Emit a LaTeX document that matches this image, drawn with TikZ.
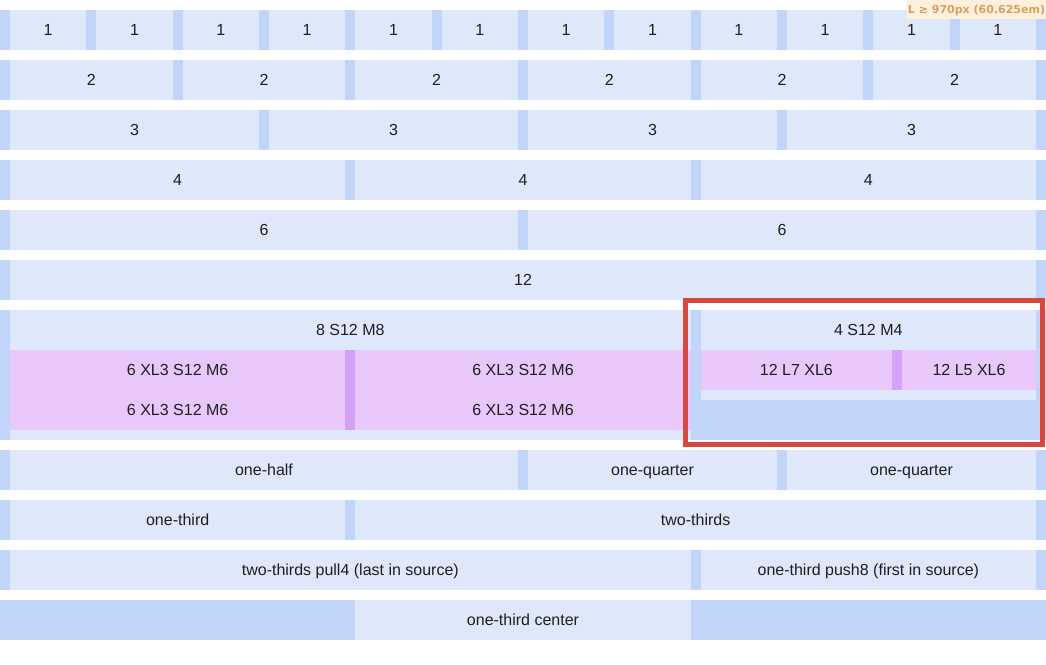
\documentclass[tikz,border=0pt]{standalone}
\usepackage{fontspec}
\setmainfont{Liberation Sans}
\newfontfamily\labelfont{DejaVu Sans}
\definecolor{cellc}{HTML}{DFE8FB}
\definecolor{gutc}{HTML}{C1D4FA}
\definecolor{pinkc}{HTML}{E8C8FA}
\definecolor{purpc}{HTML}{D4A2F6}
\definecolor{redc}{HTML}{D9483C}
\definecolor{txtc}{HTML}{1E1E1E}
\definecolor{creamc}{HTML}{FDF1DE}
\definecolor{tanc}{HTML}{D6A160}
\tikzset{
  celltext/.style={inner sep=0pt, anchor=base, text=txtc, font=\fontsize{16}{19}\selectfont},
  lightfill/.style={fill=cellc},
  gutfill/.style={fill=gutc},
  pinkfill/.style={fill=pinkc},
  purpfill/.style={fill=purpc},
}
% name, x1, x2, y1, y2, text
\newcommand\gcell[6]{%
  \fill[lightfill] (#2,#4) rectangle (#3,#5);
  \node[celltext] (#1) at ({(#2+#3)/2},{#4+25.7}) {#6};}
\newcommand\pcell[6]{%
  \fill[pinkfill] (#2,#4) rectangle (#3,#5);
  \node[celltext] (#1) at ({(#2+#3)/2},{#4+25.7}) {#6};}
\newcommand\rowbg[2]{\fill[gutfill] (0,#1) rectangle (1046,#2);}
\begin{document}
\begin{tikzpicture}[x=1pt,y=-1pt]
\useasboundingbox (0,0) rectangle (1046,664);
\fill[white] (0,0) rectangle (1046,664);
% row 1
\rowbg{10}{50}
\foreach \k in {0,...,11}{
  \pgfmathsetmacro\xa{86.3333*\k+10}
  \pgfmathsetmacro\xb{86.3333*(\k+1)}
  \gcell{ra\k}{\xa}{\xb}{10}{50}{1}
}
% row 2
\rowbg{60}{100}
\foreach \k in {0,...,5}{
  \pgfmathsetmacro\xa{172.6667*\k+10}
  \pgfmathsetmacro\xb{172.6667*(\k+1)}
  \gcell{rb\k}{\xa}{\xb}{60}{100}{2}
}
% row 3
\rowbg{110}{150}
\foreach \k in {0,...,3}{
  \pgfmathsetmacro\xa{259*\k+10}
  \pgfmathsetmacro\xb{259*(\k+1)}
  \gcell{rc\k}{\xa}{\xb}{110}{150}{3}
}
% row 4
\rowbg{160}{200}
\foreach \k in {0,...,2}{
  \pgfmathsetmacro\xa{345.3333*\k+10}
  \pgfmathsetmacro\xb{345.3333*(\k+1)}
  \gcell{rd\k}{\xa}{\xb}{160}{200}{4}
}
% row 5
\rowbg{210}{250}
\gcell{re0}{10}{518}{210}{250}{6}
\gcell{re1}{528}{1036}{210}{250}{6}
% row 6
\rowbg{260}{300}
\gcell{rf0}{10}{1036}{260}{300}{12}
% row 7 (nested)
\rowbg{310}{440}
\fill[lightfill] (10,310) rectangle (690.67,440);
\node[celltext] (eight) at (350.33,335.7) {8 S12 M8};
\fill[lightfill] (700.67,310) rectangle (1036,400);
\node[celltext] (four) at (868.33,335.7) {4 S12 M4};
\fill[purpfill] (345.33,350) rectangle (355.33,430);
\pcell{na}{10}{345.33}{350}{390}{6 XL3 S12 M6}
\pcell{nb}{355.33}{690.67}{350}{390}{6 XL3 S12 M6}
\pcell{nc}{10}{345.33}{390}{430}{6 XL3 S12 M6}
\pcell{nd}{355.33}{690.67}{390}{430}{6 XL3 S12 M6}
\fill[purpfill] (892.1,350) rectangle (902.1,390);
\pcell{ne}{700.67}{892.1}{350}{390}{12 L7 XL6}
\pcell{nf}{902.1}{1036}{350}{390}{12 L5 XL6}
\draw[redc, line width=5pt] (685.5,300.5) rectangle (1042.5,444.5);
% row 8
\rowbg{450}{490}
\gcell{rg0}{10}{518}{450}{490}{one-half}
\gcell{rg1}{528}{777}{450}{490}{one-quarter}
\gcell{rg2}{787}{1036}{450}{490}{one-quarter}
% row 9
\rowbg{500}{540}
\gcell{rh0}{10}{345.33}{500}{540}{one-third}
\gcell{rh1}{355.33}{1036}{500}{540}{two-thirds}
% row 10
\rowbg{550}{590}
\gcell{ri0}{10}{690.67}{550}{590}{two-thirds pull4 (last in source)}
\gcell{ri1}{700.67}{1036}{550}{590}{one-third push8 (first in source)}
% row 11
\rowbg{600}{640}
\gcell{rj0}{355.33}{690.67}{600}{640}{one-third center}
% breakpoint label
\fill[creamc] (907,0) rectangle (1046,19);
\node[inner sep=0pt, anchor=base, text=tanc, font=\labelfont\bfseries\fontsize{11}{13}\selectfont] (bp) at (976.5,13.5) {L ≥ 970px (60.625em)};
\end{tikzpicture}
\end{document}
